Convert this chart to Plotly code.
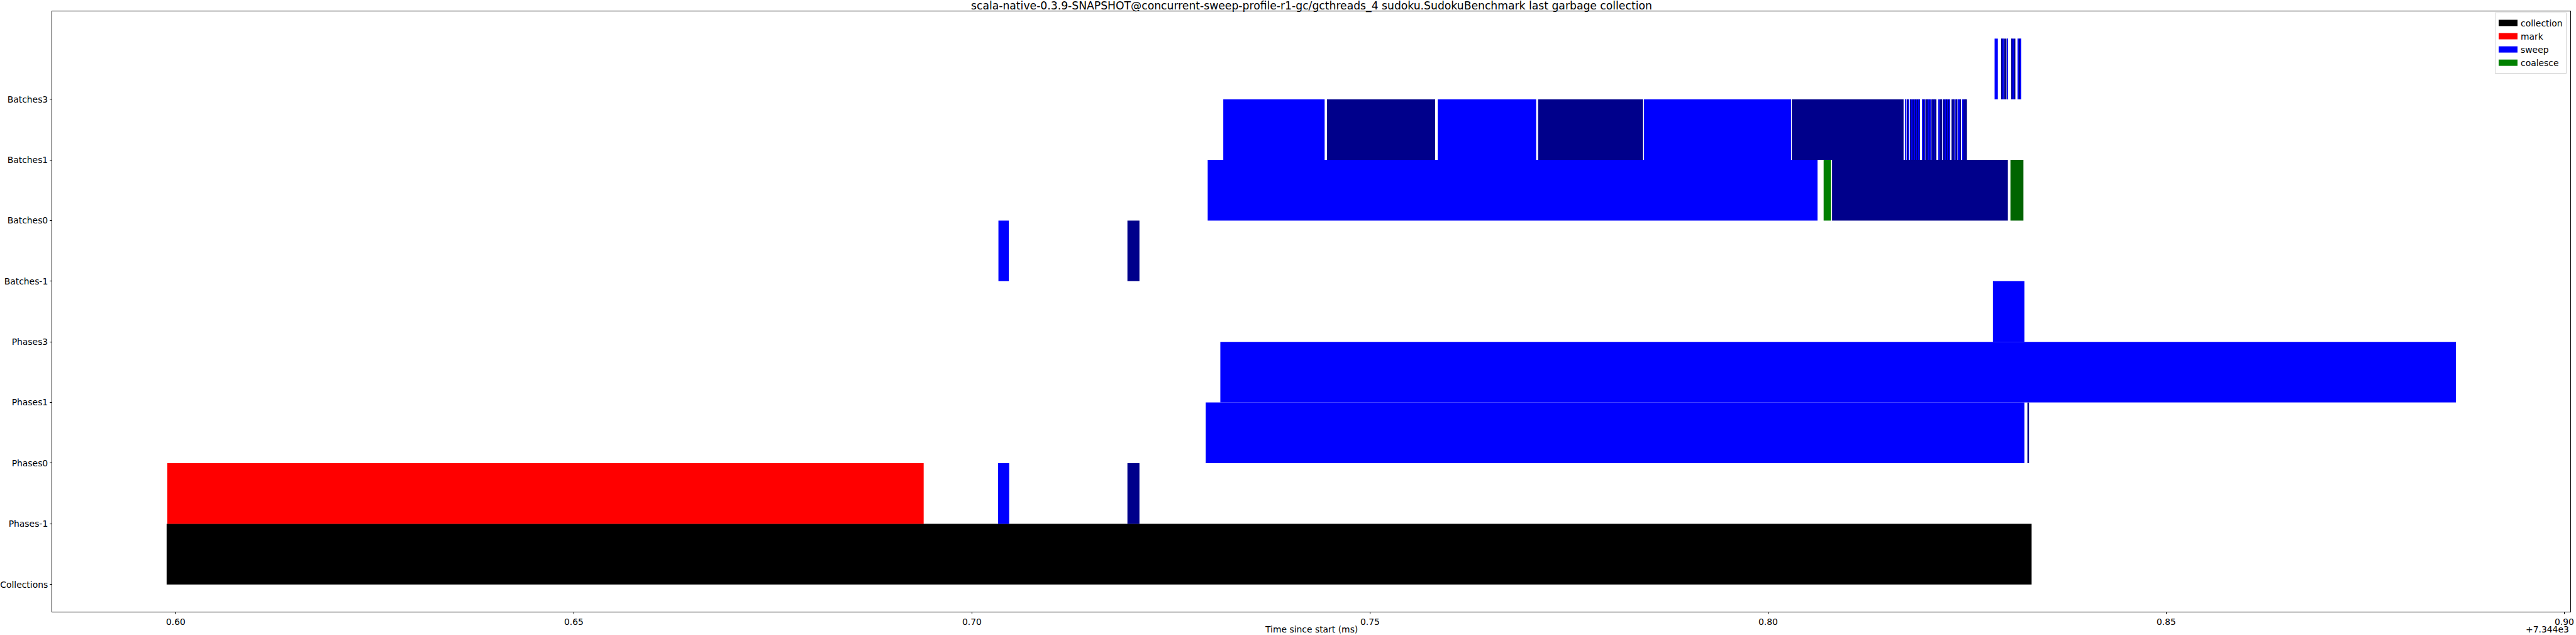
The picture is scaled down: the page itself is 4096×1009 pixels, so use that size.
import plotly.graph_objects as go

# ---------------- data (ms, relative to the axis offset) ----------------
OFFSET_TEXT = "+7.344e3"
TITLE = ("scala-native-0.3.9-SNAPSHOT@concurrent-sweep-profile-r1-gc/gcthreads_4 "
         "sudoku.SudokuBenchmark last garbage collection")
ROWS = ["Collections", "Phases-1", "Phases0", "Phases1", "Phases3",
        "Batches-1", "Batches0", "Batches1", "Batches3"]

collections_start = [0.59886]
collections_end = [0.83309]

phases_m1_mark_start = [0.59895]
phases_m1_mark_end = [0.69394]
phases_m1_sweep_start = [0.70329, 0.71953]
phases_m1_sweep_end = [0.70468, 0.72104]

phases0_sweep_start = [0.72936, 0.83256]
phases0_sweep_end = [0.83219, 0.83276]

phases1_sweep_start = [0.73120]
phases1_sweep_end = [0.88638]

phases3_sweep_start = [0.82823]
phases3_sweep_end = [0.83219]

batches_m1_sweep_start = [0.70333, 0.71953]
batches_m1_sweep_end = [0.70464, 0.72104]

batches0_sweep_start = [0.72961, 0.80803]
batches0_sweep_end = [0.80620, 0.83011]
batches0_coalesce_start = [0.80697, 0.83043]
batches0_coalesce_end = [0.80789, 0.83206]

batches1_sweep_start = [
    0.73157, 0.74459, 0.75850, 0.77111, 0.78441, 0.80297,
    0.81725, 0.81745, 0.81759, 0.81787, 0.81803, 0.81820, 0.81832, 0.81845, 0.81859, 0.81873, 0.81889, 0.81901,
    0.81934, 0.81948, 0.81959, 0.81974, 0.82006, 0.82020, 0.82034, 0.82051, 0.82064, 0.82076, 0.82089, 0.82104,
    0.82142, 0.82154, 0.82193, 0.82204, 0.82217, 0.82234, 0.82246, 0.82260, 0.82276,
    0.82310, 0.82320, 0.82331, 0.82351, 0.82365, 0.82379, 0.82412,
    0.82443, 0.82459, 0.82471, 0.82484]
batches1_sweep_end = [
    0.74430, 0.75818, 0.77086, 0.78429, 0.80289, 0.81701,
    0.81737, 0.81751, 0.81767, 0.81798, 0.81812, 0.81828, 0.81840, 0.81853, 0.81867, 0.81881, 0.81896, 0.81907,
    0.81942, 0.81954, 0.81967, 0.82004, 0.82015, 0.82026, 0.82043, 0.82059, 0.82071, 0.82085, 0.82096, 0.82112,
    0.82151, 0.82185, 0.82199, 0.82212, 0.82224, 0.82243, 0.82255, 0.82268, 0.82284,
    0.82317, 0.82327, 0.82340, 0.82362, 0.82376, 0.82407, 0.82419,
    0.82452, 0.82468, 0.82480, 0.82497]

batches3_sweep_start = [0.82844, 0.82930, 0.82946, 0.82962, 0.83002, 0.83056,
                        0.83075, 0.83092, 0.83134, 0.83150, 0.83165]
batches3_sweep_end = [0.82885, 0.82938, 0.82957, 0.82994, 0.83010, 0.83068,
                      0.83086, 0.83105, 0.83142, 0.83158, 0.83173]

# ---------------- style ----------------
PALETTE = {
    "collection": ["#000000", "#000000"],
    "mark": ["#ff0000", "#8b0000"],
    "sweep": ["#0000ff", "#00008b"],
    "coalesce": ["#008000", "#006400"],
}
KINDS = ["collection", "mark", "sweep", "coalesce"]
FONT = "DejaVu Sans"
FS = 13.9

groups = [
    ("Collections", "collection", collections_start, collections_end),
    ("Phases-1", "mark", phases_m1_mark_start, phases_m1_mark_end),
    ("Phases-1", "sweep", phases_m1_sweep_start, phases_m1_sweep_end),
    ("Phases0", "sweep", phases0_sweep_start, phases0_sweep_end),
    ("Phases1", "sweep", phases1_sweep_start, phases1_sweep_end),
    ("Phases3", "sweep", phases3_sweep_start, phases3_sweep_end),
    ("Batches-1", "sweep", batches_m1_sweep_start, batches_m1_sweep_end),
    ("Batches0", "sweep", batches0_sweep_start, batches0_sweep_end),
    ("Batches0", "coalesce", batches0_coalesce_start, batches0_coalesce_end),
    ("Batches1", "sweep", batches1_sweep_start, batches1_sweep_end),
    ("Batches3", "sweep", batches3_sweep_start, batches3_sweep_end),
]

# collect bars per colour
buckets = {}
for row, kind, starts, ends in groups:
    r = ROWS.index(row)
    for i, (s, e) in enumerate(zip(starts, ends)):
        col = PALETTE[kind][i % 2]
        b = buckets.setdefault(col, {"y": [], "x": [], "base": []})
        b["y"].append(r + 0.5)
        b["x"].append(e - s)
        b["base"].append(s)

fig = go.Figure()
for col, b in buckets.items():
    fig.add_trace(go.Bar(
        orientation="h", y=b["y"], x=b["x"], base=b["base"],
        width=[1.0] * len(b["y"]),
        marker=dict(color=col, line=dict(width=0)),
        showlegend=False, hoverinfo="skip",
    ))

# legend entries
for k in KINDS:
    fig.add_trace(go.Scatter(
        x=[None], y=[None], mode="lines", name=k,
        line=dict(color=PALETTE[k][0], width=11),
    ))

W, H = 4096, 1009
fig.update_layout(
    template="none",
    width=W, height=H,
    margin=dict(l=83, r=9, t=18, b=37, pad=0, autoexpand=False),
    paper_bgcolor="white", plot_bgcolor="white",
    barmode="overlay",
    font=dict(family=FONT, size=FS, color="black"),
    showlegend=True,
    legend=dict(
        x=0.9985, xanchor="right", y=0.998, yanchor="top",
        bgcolor="white", bordercolor="#d5d5d5", borderwidth=1,
        font=dict(family=FONT, size=FS, color="black"),
        itemwidth=30, tracegroupgap=0,
    ),
)
fig.update_xaxes(
    automargin=False,
    range=[0.58449, 0.90075], tickmode="linear", tick0=0.60, dtick=0.05,
    tickformat=".2f", ticks="outside", ticklen=3, tickwidth=1, tickcolor="black",
    showline=True, mirror=True, linecolor="black", linewidth=1,
    showgrid=False, zeroline=False,
    tickfont=dict(family=FONT, size=FS, color="black"),
)
fig.update_yaxes(
    automargin=False,
    range=[-0.45, 9.45], tickmode="array", tickvals=list(range(len(ROWS))), ticktext=ROWS,
    ticks="outside", ticklen=3, tickwidth=1, tickcolor="black",
    showline=True, mirror=True, linecolor="black", linewidth=1,
    showgrid=False, zeroline=False,
    tickfont=dict(family=FONT, size=FS, color="black"),
)

fig.add_annotation(text=TITLE, xref="paper", yref="paper", x=0.5, y=1,
                   xanchor="center", yanchor="middle", yshift=9, showarrow=False,
                   font=dict(family=FONT, size=17.2, color="black"))
fig.add_annotation(text="Time since start (ms)", xref="paper", yref="paper", x=0.5, y=0,
                   xanchor="center", yanchor="middle", yshift=-28, showarrow=False,
                   font=dict(family=FONT, size=FS, color="black"))
fig.add_annotation(text=OFFSET_TEXT, xref="paper", yref="paper", x=1, y=0,
                   xanchor="right", yanchor="middle", yshift=-28, showarrow=False,
                   font=dict(family=FONT, size=FS, color="black"))

fig.write_html("out.html", config={"displayModeBar": False},
               post_script="document.body.style.margin='0';document.body.style.padding='0';")
